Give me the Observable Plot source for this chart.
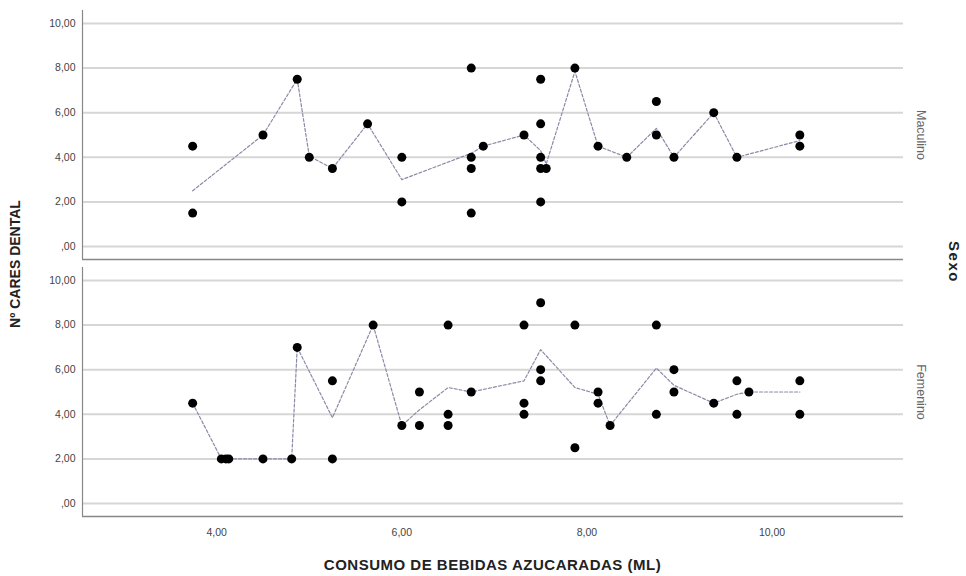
<!DOCTYPE html>
<html><head><meta charset="utf-8">
<script src="https://cdn.jsdelivr.net/npm/d3@7"></script>
<script src="https://cdn.jsdelivr.net/npm/@observablehq/plot@0.6"></script>
<style>body{margin:0;background:#fff;font-family:"Liberation Sans",Arial,sans-serif}#chart{position:relative;width:966px;height:576px}</style>
</head><body><div id="chart"></div><script>
const sexos = ["Maculino", "Femenino"];

const mascX = [3.74, 3.74, 4.50, 4.87, 5.00, 5.25, 5.63, 6.00, 6.00, 6.75, 6.75, 6.75, 6.75, 6.88, 7.32, 7.50, 7.50, 7.50, 7.50, 7.56, 7.50, 7.87, 8.12, 8.43, 8.75, 8.75, 8.94, 9.37, 9.62, 10.30, 10.30];
const mascY = [4.5, 1.5, 5.0, 7.5, 4.0, 3.5, 5.5, 4.0, 2.0, 8.0, 4.0, 3.5, 1.5, 4.5, 5.0, 7.5, 5.5, 4.0, 3.5, 3.5, 2.0, 8.0, 4.5, 4.0, 6.5, 5.0, 4.0, 6.0, 4.0, 5.0, 4.5];

const femX = [3.74, 4.05, 4.10, 4.13, 4.50, 4.81, 4.87, 5.25, 5.25, 5.69, 6.00, 6.19, 6.19, 6.50, 6.50, 6.50, 6.75, 7.32, 7.32, 7.32, 7.50, 7.50, 7.50, 7.87, 7.87, 8.12, 8.12, 8.25, 8.75, 8.75, 8.94, 8.94, 9.37, 9.62, 9.62, 9.75, 10.30, 10.30];
const femY = [4.5, 2.0, 2.0, 2.0, 2.0, 2.0, 7.0, 5.5, 2.0, 8.0, 3.5, 5.0, 3.5, 8.0, 4.0, 3.5, 5.0, 8.0, 4.5, 4.0, 9.0, 6.0, 5.5, 8.0, 2.5, 5.0, 4.5, 3.5, 8.0, 4.0, 6.0, 5.0, 4.5, 5.5, 4.0, 5.0, 5.5, 4.0];

const fitMascX = [3.74, 4.50, 4.87, 5.00, 5.25, 5.63, 6.00, 6.75, 6.88, 7.32, 7.50, 7.56, 7.87, 8.12, 8.43, 8.75, 8.94, 9.37, 9.62, 10.30];
const fitMascY = [2.5, 5.0, 7.5, 4.05, 3.5, 5.5, 3.0, 4.18, 4.5, 5.0, 4.3, 3.7, 7.85, 4.5, 4.0, 5.3, 4.0, 6.0, 4.0, 4.75];

const fitFemX = [3.74, 4.05, 4.81, 4.87, 5.25, 5.69, 6.00, 6.19, 6.50, 6.75, 7.32, 7.50, 7.87, 8.12, 8.25, 8.75, 8.94, 9.37, 9.62, 9.75, 10.30];
const fitFemY = [4.5, 2.0, 2.0, 7.0, 3.85, 8.0, 3.5, 4.2, 5.2, 5.0, 5.5, 6.9, 5.2, 4.9, 3.5, 6.07, 5.3, 4.5, 4.9, 5.0, 5.0];

const yTicks = [0, 2, 4, 6, 8, 10];
const yTickLabels = [",00", "2,00", "4,00", "6,00", "8,00", "10,00"];
const xTicks = [4, 6, 8, 10];
const xTickLabels = ["4,00", "6,00", "8,00", "10,00"];

const xLabel = "CONSUMO DE BEBIDAS AZUCARADAS (ML)";
const yLabel = "Nº CARES DENTAL";
const fyLabel = "Sexo";

const points = [
  ...mascX.map((x, i) => ({sexo: sexos[0], x, y: mascY[i]})),
  ...femX.map((x, i) => ({sexo: sexos[1], x, y: femY[i]}))
];
const fits = [
  ...fitMascX.map((x, i) => ({sexo: sexos[0], x, y: fitMascY[i]})),
  ...fitFemX.map((x, i) => ({sexo: sexos[1], x, y: fitFemY[i]}))
];

const xDomain = [2.55, 11.42];
const yDomain = [-0.58, 10.58];

const chart = Plot.plot({
  width: 966,
  height: 576,
  marginTop: 10,
  marginBottom: 59,
  marginLeft: 82,
  marginRight: 63,
  style: {fontFamily: "'Liberation Sans', Arial, sans-serif", fontSize: "10px", color: "#444", background: "#fff", overflow: "visible"},
  x: {domain: xDomain, label: null},
  y: {domain: yDomain, label: null},
  fy: {domain: sexos, paddingInner: 0.03, paddingOuter: 0, label: null},
  marks: [
    Plot.ruleY(yTicks, {stroke: "#d6d6d6", strokeWidth: 2}),
    Plot.ruleX([xDomain[0]], {stroke: "#888", strokeWidth: 1.2}),
    Plot.ruleY([yDomain[0]], {stroke: "#888", strokeWidth: 1.5}),
    Plot.line(fits, {x: "x", y: "y", fy: "sexo", z: "sexo", stroke: "#8a8aa6", strokeWidth: 1.2, strokeDasharray: "3,2"}),
    Plot.dot(points, {x: "x", y: "y", fy: "sexo", r: 4.5, fill: "#000", stroke: "none"}),
    Plot.axisX({ticks: xTicks, tickFormat: (d) => xTickLabels[xTicks.indexOf(d)], tickSize: 0, tickPadding: 12, label: null, fontSize: 10.5, style: {letterSpacing: "1px"}}),
    Plot.axisY({ticks: yTicks, tickFormat: (d) => yTickLabels[yTicks.indexOf(d)], tickSize: 0, tickPadding: 7, label: null, fontSize: 10.5, style: {letterSpacing: "1px"}}),
    Plot.axisFy({anchor: "right", tickRotate: 90, tickSize: 0, tickPadding: 22, label: null, fontSize: 12.5, color: "#666", style: {letterSpacing: "1px"}})
  ]
});

document.getElementById("chart").appendChild(chart);

const svg = d3.select(chart);
svg.append("text")
  .attr("x", (82 + 903) / 2).attr("y", 570)
  .attr("text-anchor", "middle")
  .attr("font-size", 15).attr("font-weight", "bold").attr("fill", "#222")
  .attr("letter-spacing", "0.5px")
  .text(xLabel);
svg.append("text")
  .attr("transform", "translate(20,264) rotate(-90)")
  .attr("text-anchor", "middle")
  .attr("font-size", 14).attr("font-weight", "bold").attr("fill", "#222")
  .text(yLabel);
svg.append("text")
  .attr("transform", "translate(949,262) rotate(90)")
  .attr("text-anchor", "middle")
  .attr("font-size", 15).attr("font-weight", "bold").attr("fill", "#222")
  .attr("letter-spacing", "1.5px")
  .text(fyLabel);
</script></body></html>
